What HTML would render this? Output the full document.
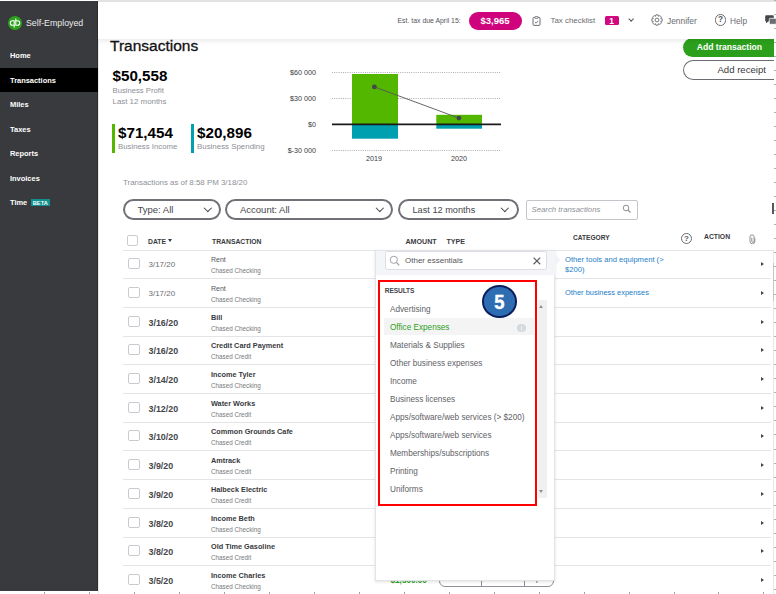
<!DOCTYPE html>
<html><head><meta charset="utf-8">
<style>
*{margin:0;padding:0;box-sizing:border-box}
html,body{width:776px;height:594px;overflow:hidden;background:#fff;font-family:"Liberation Sans",sans-serif;color:#393a3d}
.a{position:absolute}
.t{position:absolute;white-space:nowrap;line-height:10px}
#side{left:0;top:1.4px;width:97.8px;height:589.8px;background:#393a3d}
.nav{position:absolute;left:10px;color:#fff;font-weight:bold;font-size:7.45px;line-height:10px}
#top{left:98px;top:0;width:678px;height:39px;background:#fff;box-shadow:0 2px 5px rgba(0,0,0,.09)}
.hdr{font-weight:bold;font-size:6.8px;color:#393a3d}
.cb{position:absolute;width:11.5px;height:11.5px;border:1px solid #c9cbd0;border-radius:2px;background:#fff}
.date{position:absolute;left:148.5px;font-size:8px;color:#6b6c72;line-height:10px}
.dateb{font-weight:bold;font-size:8.9px;color:#45464b}
.tn{position:absolute;left:211px;font-size:7px;color:#55565b;line-height:10px}
.tnb{color:#393a3d}
.tnb{font-weight:bold;font-size:7.3px}
.ta{position:absolute;left:211px;font-size:6.3px;color:#76777c;line-height:10px}
.rb{position:absolute;left:123px;width:648px;height:1px;background:#e3e4e8}
.li{position:absolute;left:390px;font-size:8.2px;color:#606166;line-height:10px}
.arr{position:absolute;left:761px;width:0;height:0;border-top:2.5px solid transparent;border-bottom:2.5px solid transparent;border-left:3px solid #45464b}
.pill{position:absolute;top:199px;height:20.8px;border:2px solid #707176;border-radius:10.4px}
.chev{position:absolute;width:6px;height:6px;border-right:1.4px solid #45464b;border-bottom:1.4px solid #45464b;transform:rotate(45deg)}
</style></head><body>

<!-- sidebar -->
<div class="a" id="side"></div><div class="a" style="left:97px;top:1.4px;width:0.8px;height:589.8px;background:#2c2d31"></div><div class="a" style="left:97.8px;top:38px;width:1.6px;height:556px;background:linear-gradient(90deg,#d8d8d8,#f8f8f8)"></div>
<div class="a" style="left:8px;top:15.5px;width:14px;height:14px;border-radius:50%;background:#2ca01c"></div>
<svg class="a" style="left:8px;top:15.5px" width="14" height="14" viewBox="0 0 14 14"><path d="M6.2 11.6V4.7H4.6a2.3 2.3 0 0 0 0 4.6H6.2 M7.8 2.4V9.3H9.4a2.3 2.3 0 0 0 0-4.6H7.8" stroke="#fff" stroke-width="1.1" fill="none"/></svg>
<div class="t" style="left:26px;top:17.5px;color:#ececec;font-size:8.8px">Self-Employed</div>
<div class="a" style="left:0;top:67.5px;width:98px;height:24.5px;background:#000"></div>
<div class="nav" style="top:51.1px">Home</div>
<div class="nav" style="top:75.6px">Transactions</div>
<div class="nav" style="top:100.1px">Miles</div>
<div class="nav" style="top:124.6px">Taxes</div>
<div class="nav" style="top:149.1px">Reports</div>
<div class="nav" style="top:173.6px">Invoices</div>
<div class="nav" style="top:198.1px">Time</div>
<div class="a" style="left:30.5px;top:198.5px;width:19.5px;height:7px;background:#108f8f"></div>
<div class="t" style="left:30.6px;width:19.4px;text-align:center;top:197.9px;color:#fff;font-weight:bold;font-size:5.7px">BETA</div>

<!-- buttons -->
<div class="a" style="left:683.1px;top:38px;width:90.8px;height:19px;border-radius:9.5px 0 0 9.5px;background:#2ca01c"></div>
<div class="t" style="left:696.7px;top:42px;font-size:8.6px;color:#fff;font-weight:bold">Add transaction</div>
<div class="a" style="left:683.2px;top:59.8px;width:90.7px;height:19.9px;border-radius:10px 0 0 10px;border:1.8px solid #6b6c72;border-right:none"></div>
<div class="t" style="left:717.4px;top:64.8px;font-size:9.6px;color:#393a3d">Add receipt</div>

<!-- top bar -->
<div class="a" id="top"></div>
<div class="a" style="left:98px;top:0;width:678px;height:1.8px;background:#e2e2e2"></div>
<div class="t" style="left:397.5px;top:16px;font-size:6.9px;color:#55565b">Est. tax due April 15:</div>
<div class="a" style="left:469px;top:12px;width:52.5px;height:17.5px;border-radius:9px;background:#cf047c"></div>
<div class="t" style="left:480.5px;top:15.5px;font-size:9.5px;color:#fff;font-weight:bold">$3,965</div>
<svg class="a" style="left:532px;top:15.8px" width="9" height="10" viewBox="0 0 9 10"><rect x="1" y="1.4" width="7" height="8" rx="1" fill="none" stroke="#6b6c72" stroke-width="1"/><rect x="2.9" y="0.6" width="3.2" height="1.8" rx="0.4" fill="#fff" stroke="#6b6c72" stroke-width="0.8"/><path d="M2.9 6.1l1.2 1.1 2-2.3" stroke="#6b6c72" stroke-width="0.9" fill="none"/></svg>
<div class="t" style="left:550.5px;top:16px;font-size:7.9px;color:#6b6c72">Tax checklist</div>
<div class="a" style="left:604.5px;top:16px;width:14px;height:9px;border-radius:1.5px;background:#d1087f"></div>
<div class="t" style="left:604.7px;width:13.7px;text-align:center;top:15.6px;font-size:8.4px;color:#fff;font-weight:bold">1</div>
<div class="chev" style="left:628.9px;top:16.8px;width:4.3px;height:4.3px;border-color:#55565b"></div>
<svg class="a" style="left:651.3px;top:13.7px" width="12" height="12" viewBox="0 0 12 12"><circle cx="6" cy="6" r="1.9" fill="none" stroke="#6b6c72" stroke-width="0.9"/><path d="M9.74 4.59 L11.17 4.84 L11.17 7.16 L9.74 7.41 L9.64 7.65 L10.48 8.84 L8.84 10.48 L7.65 9.64 L7.41 9.74 L7.16 11.17 L4.84 11.17 L4.59 9.74 L4.35 9.64 L3.16 10.48 L1.52 8.84 L2.36 7.65 L2.26 7.41 L0.83 7.16 L0.83 4.84 L2.26 4.59 L2.36 4.35 L1.52 3.16 L3.16 1.52 L4.35 2.36 L4.59 2.26 L4.84 0.83 L7.16 0.83 L7.41 2.26 L7.65 2.36 L8.84 1.52 L10.48 3.16 L9.64 4.35Z" fill="none" stroke="#6b6c72" stroke-width="0.9" stroke-linejoin="round"/></svg>
<div class="t" style="left:667px;top:15.8px;font-size:8.4px;color:#6b6c72">Jennifer</div>
<div class="a" style="left:714.6px;top:14.2px;width:11.4px;height:11.4px;border-radius:50%;border:1.1px solid #6b6c72"></div>
<div class="t" style="left:718px;top:15.2px;font-size:8.2px;font-weight:bold;color:#55565b">?</div>
<div class="t" style="left:730px;top:15.6px;font-size:8.3px;color:#6b6c72">Help</div>
<svg class="a" style="left:765px;top:14.5px" width="11" height="10" viewBox="0 0 11 10"><path d="M1.2 0.3h6.6a1 1 0 0 1 1 1v4.2a1 1 0 0 1-1 1H3.2L1 8.2V6.5A1 1 0 0 1 0.2 5.5V1.3a1 1 0 0 1 1-1z" fill="#45464b"/><rect x="4.3" y="3.3" width="7" height="6" rx="1" fill="#6b6c72" stroke="#fff" stroke-width="0.8"/></svg>

<!-- page title -->
<div class="t" style="left:110px;top:37.7px;font-size:15.5px;line-height:15px;color:#111;-webkit-text-stroke:0.3px #111">Transactions</div>

<!-- summary -->
<div class="t" style="left:112.5px;top:69px;font-size:15.2px;line-height:14px;font-weight:bold;color:#000">$50,558</div>
<div class="t" style="left:112.5px;top:85.5px;font-size:7.7px;color:#8d9096">Business Profit</div>
<div class="t" style="left:112.5px;top:96.5px;font-size:7.9px;color:#8d9096">Last 12 months</div>
<div class="a" style="left:112px;top:124px;width:2.6px;height:29px;background:#53b700"></div>
<div class="t" style="left:118px;top:126px;font-size:15.2px;line-height:14px;font-weight:bold;color:#000">$71,454</div>
<div class="t" style="left:118px;top:142px;font-size:7.8px;color:#8d9096">Business Income</div>
<div class="a" style="left:191.3px;top:124px;width:2.6px;height:29px;background:#00a0b0"></div>
<div class="t" style="left:197px;top:126px;font-size:15.2px;line-height:14px;font-weight:bold;color:#000">$20,896</div>
<div class="t" style="left:197px;top:142px;font-size:7.9px;color:#8d9096">Business Spending</div>

<!-- chart -->
<svg class="a" style="left:280px;top:60px" width="230" height="110" viewBox="280 60 230 110">
 <g stroke="#a5a6aa" stroke-width="0.9" stroke-dasharray="1 1.2">
  <line x1="332" y1="72.5" x2="501" y2="72.5"/>
  <line x1="332" y1="98.5" x2="501" y2="98.5"/>
  <line x1="332" y1="150.5" x2="501" y2="150.5"/>
 </g>
 <rect x="352" y="74" width="46" height="50.5" fill="#53b700"/>
 <rect x="352" y="124.5" width="46" height="14.2" fill="#00a0b0"/>
 <rect x="436.3" y="114.8" width="45.7" height="9.7" fill="#53b700"/>
 <rect x="436.3" y="124.5" width="45.7" height="4.2" fill="#00a0b0"/>
 <line x1="332" y1="124.3" x2="501" y2="124.3" stroke="#1a1a1a" stroke-width="1.8"/>
 <line x1="374.4" y1="86.9" x2="458.9" y2="118.1" stroke="#55565b" stroke-width="0.9"/>
 <circle cx="374.4" cy="86.9" r="2.4" fill="#45464b"/>
 <circle cx="458.9" cy="118.1" r="2.4" fill="#45464b"/>
</svg>
<div class="t" style="left:270px;width:46px;text-align:right;top:67.8px;font-size:7.2px;color:#393a3d">$60 000</div>
<div class="t" style="left:270px;width:46px;text-align:right;top:93.8px;font-size:7.2px;color:#393a3d">$30 000</div>
<div class="t" style="left:270px;width:46px;text-align:right;top:119.8px;font-size:7.2px;color:#393a3d">$0</div>
<div class="t" style="left:270px;width:46px;text-align:right;top:145.8px;font-size:7.2px;color:#393a3d">$-30 000</div>
<div class="t" style="left:354px;width:40px;text-align:center;top:153.5px;font-size:7.2px;color:#393a3d">2019</div>
<div class="t" style="left:439px;width:40px;text-align:center;top:153.5px;font-size:7.2px;color:#393a3d">2020</div>

<!-- filters -->
<div class="t" style="left:123px;top:177.5px;font-size:7.9px;color:#8d9096">Transactions as of 8:58 PM 3/18/20</div>
<div class="pill" style="left:122.8px;width:98.2px"></div>
<div class="t" style="left:137.5px;top:205px;font-size:9.5px;color:#45464b">Type: All</div>
<div class="chev" style="left:204.6px;top:205.1px;width:5.6px;height:5.6px"></div>
<div class="pill" style="left:225.3px;width:168.2px"></div>
<div class="t" style="left:240px;top:205px;font-size:9.5px;color:#45464b">Account: All</div>
<div class="chev" style="left:376.6px;top:205.1px;width:5.6px;height:5.6px"></div>
<div class="pill" style="left:397.8px;width:121.2px"></div>
<div class="t" style="left:412.5px;top:205px;font-size:9.2px;color:#45464b">Last 12 months</div>
<div class="chev" style="left:501.6px;top:205.1px;width:5.6px;height:5.6px"></div>
<div class="a" style="left:526px;top:199.5px;width:112px;height:20px;border:1px solid #c4c5ca;border-radius:2px"></div>
<div class="t" style="left:531.5px;top:205px;font-size:7.8px;font-style:italic;color:#8d9096">Search transactions</div>
<svg class="a" style="left:622px;top:204px" width="10" height="10" viewBox="0 0 10 10"><circle cx="4" cy="4" r="2.8" fill="none" stroke="#8d9096" stroke-width="1"/><path d="M6 6l2.5 2.5" stroke="#8d9096" stroke-width="1.1"/></svg>
<div class="a" style="left:772.3px;top:203.3px;width:1.6px;height:10.5px;background:#55565b"></div>

<!-- table header -->
<div class="cb" style="left:127.2px;top:235px;width:10.8px;height:11.2px"></div>
<div class="t hdr" style="left:148px;top:236.5px">DATE</div><div class="a" style="left:167.9px;top:239.2px;width:0;height:0;border-left:2.5px solid transparent;border-right:2.5px solid transparent;border-top:3.8px solid #393a3d"></div>
<div class="t hdr" style="left:212px;top:236.5px">TRANSACTION</div>
<div class="t hdr" style="left:405.5px;top:236.5px;font-size:7.1px">AMOUNT</div>
<div class="t hdr" style="left:446.5px;top:236.5px;font-size:7.1px">TYPE</div>
<div class="t hdr" style="left:573px;top:233px;font-size:6.6px">CATEGORY</div>
<div class="a" style="left:680.6px;top:233.1px;width:11.4px;height:11.4px;border-radius:50%;border:1.1px solid #6b6c72"></div>
<div class="t" style="left:684px;top:233.8px;font-size:8px;font-weight:bold;color:#55565b">?</div>
<div class="t hdr" style="left:704px;top:232px;font-size:6.8px">ACTION</div>
<svg class="a" style="left:748.5px;top:233.5px" width="7" height="10" viewBox="0 0 7 10"><path d="M5.9 4.6v2.7a2.45 2.45 0 0 1-4.9 0V2.9a2.05 2.05 0 0 1 4.1 0v4.3a1.15 1.15 0 0 1-2.3 0V4" fill="none" stroke="#8a8b90" stroke-width="0.95" stroke-linecap="round"/></svg>
<div class="a" style="left:123px;top:249.5px;width:650px;height:1px;background:#e3e4e8"></div>

<div id="rows">
<div class="cb" style="left:128px;top:257.6px"></div>
<div class="date" style="top:259.8px">3/17/20</div>
<div class="tn" style="top:255.4px">Rent</div>
<div class="ta" style="top:266.0px">Chased Checking</div>
<div class="arr" style="top:261.7px"></div>
<div class="rb" style="top:278.0px"></div>
<div class="cb" style="left:128px;top:286.6px"></div>
<div class="date" style="top:288.8px">3/17/20</div>
<div class="tn" style="top:284.4px">Rent</div>
<div class="ta" style="top:295.0px">Chased Checking</div>
<div class="arr" style="top:290.7px"></div>
<div class="rb" style="top:307.0px"></div>
<div class="cb" style="left:128px;top:315.6px"></div>
<div class="date dateb" style="top:317.8px">3/16/20</div>
<div class="tn tnb" style="top:313.4px">Bill</div>
<div class="ta" style="top:324.0px">Chased Checking</div>
<div class="arr" style="top:319.7px"></div>
<div class="rb" style="top:336.0px"></div>
<div class="cb" style="left:128px;top:343.6px"></div>
<div class="date dateb" style="top:345.8px">3/16/20</div>
<div class="tn tnb" style="top:341.4px">Credit Card Payment</div>
<div class="ta" style="top:352.0px">Chased Credit</div>
<div class="arr" style="top:347.7px"></div>
<div class="rb" style="top:364.0px"></div>
<div class="cb" style="left:128px;top:372.6px"></div>
<div class="date dateb" style="top:374.8px">3/14/20</div>
<div class="tn tnb" style="top:370.4px">Income Tyler</div>
<div class="ta" style="top:381.0px">Chased Checking</div>
<div class="arr" style="top:376.7px"></div>
<div class="rb" style="top:393.0px"></div>
<div class="cb" style="left:128px;top:401.6px"></div>
<div class="date dateb" style="top:403.8px">3/12/20</div>
<div class="tn tnb" style="top:399.4px">Water Works</div>
<div class="ta" style="top:410.0px">Chased Credit</div>
<div class="arr" style="top:405.7px"></div>
<div class="rb" style="top:422.0px"></div>
<div class="cb" style="left:128px;top:429.6px"></div>
<div class="date dateb" style="top:431.8px">3/10/20</div>
<div class="tn tnb" style="top:427.4px">Common Grounds Cafe</div>
<div class="ta" style="top:438.0px">Chased Credit</div>
<div class="arr" style="top:433.7px"></div>
<div class="rb" style="top:450.0px"></div>
<div class="cb" style="left:128px;top:458.6px"></div>
<div class="date dateb" style="top:460.8px">3/9/20</div>
<div class="tn tnb" style="top:456.4px">Amtrack</div>
<div class="ta" style="top:467.0px">Chased Credit</div>
<div class="arr" style="top:462.7px"></div>
<div class="rb" style="top:479.0px"></div>
<div class="cb" style="left:128px;top:487.6px"></div>
<div class="date dateb" style="top:489.8px">3/9/20</div>
<div class="tn tnb" style="top:485.4px">Halbeck Electric</div>
<div class="ta" style="top:496.0px">Chased Credit</div>
<div class="arr" style="top:491.7px"></div>
<div class="rb" style="top:508.0px"></div>
<div class="cb" style="left:128px;top:516.6px"></div>
<div class="date dateb" style="top:518.8px">3/8/20</div>
<div class="tn tnb" style="top:514.4px">Income Beth</div>
<div class="ta" style="top:525.0px">Chased Checking</div>
<div class="arr" style="top:520.7px"></div>
<div class="rb" style="top:537.0px"></div>
<div class="cb" style="left:128px;top:544.6px"></div>
<div class="date dateb" style="top:546.8px">3/8/20</div>
<div class="tn tnb" style="top:542.4px">Old Time Gasoline</div>
<div class="ta" style="top:553.0px">Chased Credit</div>
<div class="arr" style="top:548.7px"></div>
<div class="rb" style="top:565.0px"></div>
<div class="cb" style="left:128px;top:573.6px"></div>
<div class="date dateb" style="top:575.8px">3/5/20</div>
<div class="tn tnb" style="top:571.4px">Income Charles</div>
<div class="ta" style="top:582.0px">Chased Checking</div>
<div class="arr" style="top:577.7px"></div>
<div class="rb" style="top:594.0px"></div>
</div><!--/rows-->
<!--DD-->
<!-- category panel -->
<div class="a" style="left:772.5px;top:250px;width:1.3px;height:344px;background:#e6e7ea"></div><div class="a" style="left:772.6px;top:262.7px;width:1.3px;height:38.7px;background:#c6c7cb"></div>
<div class="t" style="left:565px;top:254.5px;font-size:7.6px;color:#2280c8">Other tools and equipment (&gt;</div>
<div class="t" style="left:565px;top:264.5px;font-size:7.6px;color:#2280c8">$200)</div>
<div class="t" style="left:565px;top:288px;font-size:7.45px;color:#2280c8">Other business expenses</div>

<!-- segmented buttons peeking below dropdown -->
<div class="t" style="left:390.5px;top:575.5px;font-size:8.2px;color:#2ca01c;font-weight:bold">$1,500.00</div>
<div class="a" style="left:439px;top:570px;width:114.5px;height:16.6px;border:1px solid #8d9096;border-radius:0 0 6px 6px"></div>
<div class="a" style="left:481.3px;top:570px;width:1px;height:16px;background:#8d9096"></div>
<div class="a" style="left:523.8px;top:570px;width:1px;height:16px;background:#8d9096"></div>
<div class="t" style="left:445px;top:574.3px;font-size:7.5px;color:#393a3d">Business</div>
<div class="t" style="left:488px;top:574.3px;font-size:7.5px;color:#393a3d">Personal</div>
<div class="t" style="left:531px;top:574.3px;font-size:7.5px;color:#393a3d">Split</div>

<!-- dropdown -->
<div class="a" style="left:374.8px;top:250px;width:180.7px;height:330.8px;background:#fff;border:1px solid #e3e4e8;box-shadow:0 1px 3px rgba(0,0,0,.12)"></div>
<div class="a" style="left:375.8px;top:250.5px;width:179.7px;height:24.6px;background:#f4f5f8"></div>
<div class="a" style="left:555.4px;top:254.1px;width:0;height:0;border-top:6px solid transparent;border-bottom:6px solid transparent;border-left:5.5px solid #f1f2f5"></div>
<div class="a" style="left:384.6px;top:250.6px;width:162.2px;height:19.2px;background:#fff;border:1px solid #dcdde2;border-radius:2.5px"></div>
<svg class="a" style="left:388.9px;top:254.5px" width="12" height="12" viewBox="0 0 12 12"><circle cx="4.8" cy="4.8" r="3.6" fill="none" stroke="#a0a1a6" stroke-width="1"/><path d="M7.5 7.5l2.8 2.8" stroke="#a0a1a6" stroke-width="1.2"/></svg>
<div class="t" style="left:405px;top:255.5px;font-size:8px;color:#55565b">Other essentials</div>
<svg class="a" style="left:533.3px;top:256.9px" width="8" height="8" viewBox="0 0 8 8"><path d="M0.6 0.6l6.6 6.6M7.2 0.6l-6.6 6.6" stroke="#5f6065" stroke-width="1.25"/></svg>

<div class="t" style="left:384.8px;top:285.7px;font-size:6.6px;letter-spacing:-0.12px;font-weight:bold;color:#45464b">RESULTS</div>
<div class="a" style="left:537.8px;top:300.2px;width:9.2px;height:197.4px;background:#f0f0f0"></div>
<div class="a" style="left:538.6px;top:305.1px;width:0;height:0;border-left:2.8px solid transparent;border-right:2.8px solid transparent;border-bottom:3px solid #909196"></div>
<div class="a" style="left:538.6px;top:490.1px;width:0;height:0;border-left:2.8px solid transparent;border-right:2.8px solid transparent;border-top:3px solid #909196"></div>
<div class="a" style="left:384px;top:318.2px;width:149.7px;height:17.3px;background:#f4f4f4"></div>
<div class="a" style="left:517.4px;top:324.3px;width:8.2px;height:8px;border-radius:50%;background:#d5d8dc"></div><div class="a" style="left:521px;top:327px;width:1px;height:3.5px;background:#eef0f2"></div><div class="a" style="left:521px;top:325.6px;width:1px;height:0.9px;background:#eef0f2"></div>
<div class="li" style="top:304.8px;color:#606166">Advertising</div>
<div class="li" style="top:322.9px;color:#2ca01c">Office Expenses</div>
<div class="li" style="top:340.9px;color:#606166">Materials &amp; Supplies</div>
<div class="li" style="top:358.9px;color:#606166">Other business expenses</div>
<div class="li" style="top:377.0px;color:#606166">Income</div>
<div class="li" style="top:395.0px;color:#606166">Business licenses</div>
<div class="li" style="top:413.1px;color:#606166">Apps/software/web services (&gt; $200)</div>
<div class="li" style="top:431.2px;color:#606166">Apps/software/web services</div>
<div class="li" style="top:449.2px;color:#606166">Memberships/subscriptions</div>
<div class="li" style="top:467.3px;color:#606166">Printing</div>
<div class="li" style="top:485.3px;color:#606166">Uniforms</div>
<!-- red box -->
<div class="a" style="left:378px;top:280px;width:159px;height:225.5px;border:2.2px solid #f00"></div>
<!-- badge 5 -->
<div class="a" style="left:482.2px;top:285px;width:34.6px;height:32.6px;border-radius:50%;background:#2f6db3;border:2.1px solid #0b1e5b"></div>
<div class="t" style="left:482.2px;width:34.6px;text-align:center;top:290.8px;font-size:20.5px;line-height:21px;font-weight:bold;color:#fff;transform:scaleX(0.9);-webkit-text-stroke:0.4px #fff">5</div>
<!--/DD-->

<!--TICKS-->
<div class="a" style="left:44.4px;top:592px;width:1px;height:2px;background:#a0a1a5"></div>
<div class="a" style="left:89.4px;top:592px;width:1px;height:2px;background:#a0a1a5"></div>
<div class="a" style="left:134.3px;top:592px;width:1px;height:2px;background:#a0a1a5"></div>
<div class="a" style="left:179.2px;top:592px;width:1px;height:2px;background:#a0a1a5"></div>
<div class="a" style="left:224.2px;top:592px;width:1px;height:2px;background:#a0a1a5"></div>
<div class="a" style="left:269.1px;top:592px;width:1px;height:2px;background:#a0a1a5"></div>
<div class="a" style="left:314.0px;top:592px;width:1px;height:2px;background:#a0a1a5"></div>
<div class="a" style="left:358.9px;top:592px;width:1px;height:2px;background:#a0a1a5"></div>
<div class="a" style="left:403.9px;top:592px;width:1px;height:2px;background:#a0a1a5"></div>
<div class="a" style="left:448.8px;top:592px;width:1px;height:2px;background:#a0a1a5"></div>
<div class="a" style="left:493.7px;top:592px;width:1px;height:2px;background:#a0a1a5"></div>
<div class="a" style="left:538.7px;top:592px;width:1px;height:2px;background:#a0a1a5"></div>
<div class="a" style="left:583.6px;top:592px;width:1px;height:2px;background:#a0a1a5"></div>
<div class="a" style="left:628.5px;top:592px;width:1px;height:2px;background:#a0a1a5"></div>
<div class="a" style="left:673.5px;top:592px;width:1px;height:2px;background:#a0a1a5"></div>
<div class="a" style="left:718.4px;top:592px;width:1px;height:2px;background:#a0a1a5"></div>
<div class="a" style="left:763.3px;top:592px;width:1px;height:2px;background:#a0a1a5"></div>
<div class="a" style="left:774.3px;top:-0.5px;width:1.7px;height:1px;background:#b0b1b5"></div>
<div class="a" style="left:774.3px;top:13.5px;width:1.7px;height:1px;background:#b0b1b5"></div>
<div class="a" style="left:774.3px;top:27.6px;width:1.7px;height:1px;background:#b0b1b5"></div>
<div class="a" style="left:774.3px;top:41.6px;width:1.7px;height:1px;background:#b0b1b5"></div>
<div class="a" style="left:774.3px;top:55.6px;width:1.7px;height:1px;background:#b0b1b5"></div>
<div class="a" style="left:774.3px;top:69.6px;width:1.7px;height:1px;background:#b0b1b5"></div>
<div class="a" style="left:774.3px;top:83.7px;width:1.7px;height:1px;background:#b0b1b5"></div>
<div class="a" style="left:774.3px;top:97.7px;width:1.7px;height:1px;background:#b0b1b5"></div>
<div class="a" style="left:774.3px;top:111.7px;width:1.7px;height:1px;background:#b0b1b5"></div>
<div class="a" style="left:774.3px;top:125.8px;width:1.7px;height:1px;background:#b0b1b5"></div>
<div class="a" style="left:774.3px;top:139.8px;width:1.7px;height:1px;background:#b0b1b5"></div>
<div class="a" style="left:774.3px;top:153.8px;width:1.7px;height:1px;background:#b0b1b5"></div>
<div class="a" style="left:774.3px;top:167.9px;width:1.7px;height:1px;background:#b0b1b5"></div>
<div class="a" style="left:774.3px;top:181.9px;width:1.7px;height:1px;background:#b0b1b5"></div>
<div class="a" style="left:774.3px;top:195.9px;width:1.7px;height:1px;background:#b0b1b5"></div>
<div class="a" style="left:774.3px;top:209.9px;width:1.7px;height:1px;background:#b0b1b5"></div>
<div class="a" style="left:774.3px;top:224.0px;width:1.7px;height:1px;background:#b0b1b5"></div>
<div class="a" style="left:774.3px;top:238.0px;width:1.7px;height:1px;background:#b0b1b5"></div>
<div class="a" style="left:774.3px;top:252.0px;width:1.7px;height:1px;background:#b0b1b5"></div>
<div class="a" style="left:774.3px;top:266.1px;width:1.7px;height:1px;background:#b0b1b5"></div>
<div class="a" style="left:774.3px;top:280.1px;width:1.7px;height:1px;background:#b0b1b5"></div>
<div class="a" style="left:774.3px;top:294.1px;width:1.7px;height:1px;background:#b0b1b5"></div>
<div class="a" style="left:774.3px;top:308.2px;width:1.7px;height:1px;background:#b0b1b5"></div>
<div class="a" style="left:774.3px;top:322.2px;width:1.7px;height:1px;background:#b0b1b5"></div>
<div class="a" style="left:774.3px;top:336.2px;width:1.7px;height:1px;background:#b0b1b5"></div>
<div class="a" style="left:774.3px;top:350.2px;width:1.7px;height:1px;background:#b0b1b5"></div>
<div class="a" style="left:774.3px;top:364.3px;width:1.7px;height:1px;background:#b0b1b5"></div>
<div class="a" style="left:774.3px;top:378.3px;width:1.7px;height:1px;background:#b0b1b5"></div>
<div class="a" style="left:774.3px;top:392.3px;width:1.7px;height:1px;background:#b0b1b5"></div>
<div class="a" style="left:774.3px;top:406.4px;width:1.7px;height:1px;background:#b0b1b5"></div>
<div class="a" style="left:774.3px;top:420.4px;width:1.7px;height:1px;background:#b0b1b5"></div>
<div class="a" style="left:774.3px;top:434.4px;width:1.7px;height:1px;background:#b0b1b5"></div>
<div class="a" style="left:774.3px;top:448.5px;width:1.7px;height:1px;background:#b0b1b5"></div>
<div class="a" style="left:774.3px;top:462.5px;width:1.7px;height:1px;background:#b0b1b5"></div>
<div class="a" style="left:774.3px;top:476.5px;width:1.7px;height:1px;background:#b0b1b5"></div>
<div class="a" style="left:774.3px;top:490.5px;width:1.7px;height:1px;background:#b0b1b5"></div>
<div class="a" style="left:774.3px;top:504.6px;width:1.7px;height:1px;background:#b0b1b5"></div>
<div class="a" style="left:774.3px;top:518.6px;width:1.7px;height:1px;background:#b0b1b5"></div>
<div class="a" style="left:774.3px;top:532.6px;width:1.7px;height:1px;background:#b0b1b5"></div>
<div class="a" style="left:774.3px;top:546.7px;width:1.7px;height:1px;background:#b0b1b5"></div>
<div class="a" style="left:774.3px;top:560.7px;width:1.7px;height:1px;background:#b0b1b5"></div>
<div class="a" style="left:774.3px;top:574.7px;width:1.7px;height:1px;background:#b0b1b5"></div>
<div class="a" style="left:774.3px;top:588.8px;width:1.7px;height:1px;background:#b0b1b5"></div>
<!--/TICKS-->
</body></html>
